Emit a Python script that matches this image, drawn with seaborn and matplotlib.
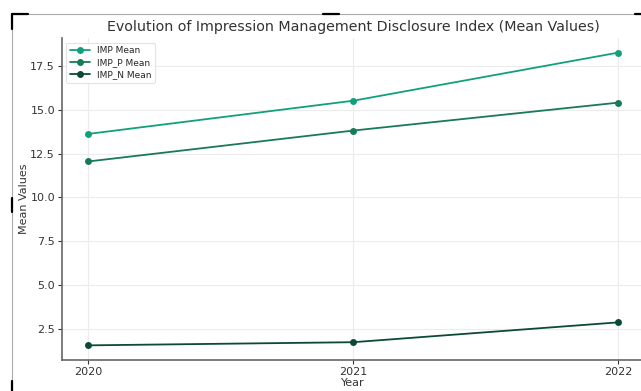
import pandas as pd
import seaborn as sns
import matplotlib.pyplot as plt
from matplotlib.lines import Line2D

years = [2020, 2021, 2022]
imp_mean = [13.62, 15.51, 18.25]
imp_p_mean = [12.05, 13.81, 15.40]
imp_n_mean = [1.57, 1.75, 2.88]

series_names = ["IMP Mean", "IMP_P Mean", "IMP_N Mean"]
series_colors = ["#12a07c", "#177a5b", "#0c4a37"]

df = pd.DataFrame({
    "Year": years * 3,
    "value": imp_mean + imp_p_mean + imp_n_mean,
    "series": [s for s in series_names for _ in years],
})

sns.set_style("whitegrid", {
    "grid.color": "#ececec",
    "axes.edgecolor": "#555555",
    "xtick.bottom": True,
    "ytick.left": True,
})
plt.rcParams["font.family"] = ["DejaVu Sans"]

fig = plt.figure(figsize=(6.41, 3.91), dpi=100)
ax = fig.add_axes([0.0967, 0.0793, 0.9088, 0.8235])

sns.lineplot(df, x="Year", y="value", hue="series", palette=series_colors,
             marker="o", markersize=5, markeredgewidth=0, linewidth=1.3, ax=ax)

ax.set_title("Evolution of Impression Management Disclosure Index (Mean Values)",
             fontsize=10.3, color="#333333", pad=5)
ax.set_xlabel("Year", fontsize=8, color="#333333", labelpad=1)
ax.set_ylabel("Mean Values", fontsize=8, color="#333333", labelpad=1)
ax.set_xticks(years)
ax.tick_params(labelsize=8, colors="#333333", length=3, width=0.8, pad=2)
ax.set_yticks([2.5, 5.0, 7.5, 10.0, 12.5, 15.0, 17.5])
for side in ["top", "right"]:
    ax.spines[side].set_visible(False)
for side in ["left", "bottom"]:
    ax.spines[side].set_linewidth(1.2)
    ax.spines[side].set_color("#666666")

leg = ax.legend(loc="upper left", fontsize=6.5, frameon=True, borderpad=0.4,
                labelspacing=0.35, handlelength=2.2, bbox_to_anchor=(0.0, 1.0))
leg.get_frame().set_edgecolor("#dddddd")
leg.get_frame().set_linewidth(0.8)

# screenshot frame lines
fig.add_artist(Line2D([12 / 641, 1], [1 - 14 / 391] * 2, color="#aaaaaa", lw=0.8, transform=fig.transFigure))
fig.add_artist(Line2D([12 / 641] * 2, [0, 1 - 14 / 391], color="#aaaaaa", lw=0.8, transform=fig.transFigure))
fig.add_artist(Line2D([12 / 641, 28 / 641], [1 - 14 / 391] * 2, color="black", lw=1.6, transform=fig.transFigure))
fig.add_artist(Line2D([12 / 641] * 2, [1 - 14 / 391, 1 - 29 / 391], color="black", lw=1.6, transform=fig.transFigure))
fig.add_artist(Line2D([323 / 641, 339 / 641], [1 - 14 / 391] * 2, color="black", lw=1.6, transform=fig.transFigure))
fig.add_artist(Line2D([635 / 641, 1], [1 - 14 / 391] * 2, color="black", lw=1.6, transform=fig.transFigure))
fig.add_artist(Line2D([12 / 641] * 2, [1 - 198 / 391, 1 - 212 / 391], color="black", lw=1.6, transform=fig.transFigure))
fig.add_artist(Line2D([12 / 641] * 2, [0, 1 - 381 / 391], color="black", lw=1.6, transform=fig.transFigure))

fig.savefig("out.png", dpi=100)
